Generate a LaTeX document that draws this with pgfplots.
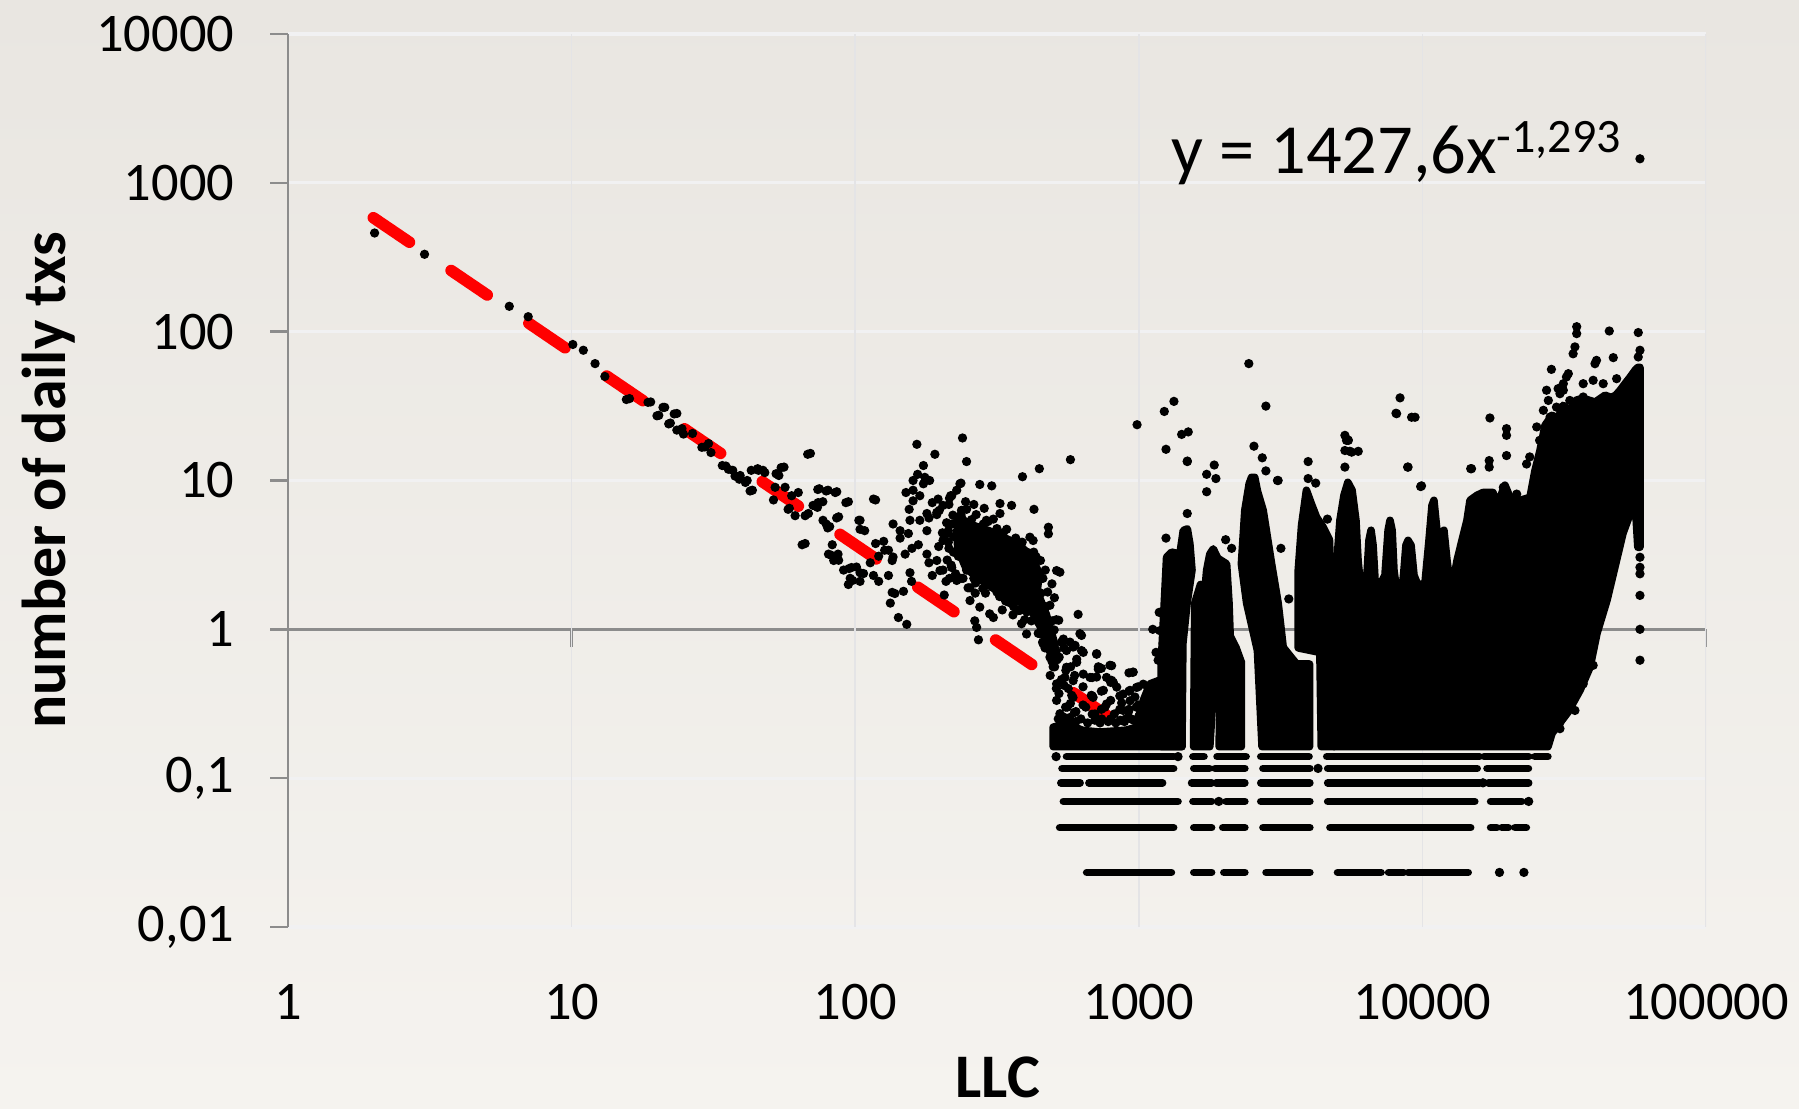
\documentclass[border=0pt]{standalone}
\usepackage{pgfplots}
\pgfplotsset{compat=1.18}
\usepackage{fontspec}
\setmainfont{Carlito}
\definecolor{bgtop}{RGB}{233,230,225}
\definecolor{bgbot}{RGB}{245,243,239}
\definecolor{gridc}{RGB}{241,241,242}
\definecolor{vgridc}{RGB}{228,228,230}
\definecolor{axisc}{RGB}{140,140,140}
\begin{document}
\begin{tikzpicture}
\shade[top color=bgtop, bottom color=bgbot] (0,0) rectangle (449.75pt,277.25pt);
\begin{axis}[
  at={(72pt,45.5pt)}, anchor=south west,
  scale only axis, width=354.5pt, height=223.25pt,
  xmode=log, ymode=log,
  xmin=1, xmax=100000, ymin=0.01, ymax=10000,
  axis x line*=middle, axis y line*=left,
  hide obscured x ticks=false,
  x axis line style={draw=axisc, line width=0.6pt, -},
  y axis line style={draw=axisc, line width=0.6pt, -},
  xtick={1,10,100,1000,10000,100000},
  xticklabels={1,10,100,1000,10000,100000},
  ytick={0.01,0.1,1,10,100,1000,10000},
  yticklabels={{0,01},{0,1},1,10,100,1000,10000},
  xminorticks=false, yminorticks=false,
  tick align=outside, major tick length=4.5pt,
  tick style={draw=axisc, line width=0.6pt},
  ymajorgrids, major grid style={draw=gridc, line width=0.8pt},
  tick label style={font=\fontsize{13.6}{16}\selectfont},
  xticklabel style={anchor=base, inner sep=0pt, yshift=-93pt},
  yticklabel style={anchor=east, inner sep=0pt, xshift=-8.75pt},
  label style={font=\bfseries\fontsize{15.5}{18}\selectfont},
  xlabel={LLC}, ylabel={number of daily txs},
  xlabel style={at={(axis description cs:0.5007,-0.168)}, anchor=center},
  ylabel style={at={(axis description cs:-0.1685,0.5)}, anchor=center},
]
\pgfplotsinvokeforeach{10,100,1000,10000,100000}{\draw[vgridc, line width=0.4pt] (axis cs:#1,0.01) -- (axis cs:#1,10000);}

% dense base band
\addplot[fill=black, draw=black, line width=1.9pt, line join=round, line cap=round, mark=none] coordinates {
(499,0.1628) (499,0.22) (556,0.232) (636,0.209) (729,0.204) (900,0.21) (982,0.22) (1037,0.333) (1095,0.43) (1180,0.454) (1300,0.42) (1410,0.40) (1420,0.1628) (499,0.1628)};
% dense core of the 200-500 cluster
\addplot[fill=black, draw=black, line width=1.9pt, line join=round, line cap=round, mark=none] coordinates {
(237,5.5) (265,4.94) (296,4.6) (334,4.14) (378,3.72) (422,3.0) (446,2.35) (438,1.8) (472,1.26) (499,0.867) (518,0.62) (490,0.676) (455,1.0) (414,1.38) (367,1.59) (319,1.8) (277,2.15) (246,2.56) (230,3.47) (228,4.6) (237,5.5)};
% spike A
\addplot[fill=black, draw=black, line width=1.9pt, line join=round, line cap=round, mark=none] coordinates {
(1200,0.1628) (1200,0.6) (1236,1.82) (1253,3.05) (1304,3.3) (1396,3.21) (1435,4.61) (1483,4.73) (1514,3.75) (1540,2.5) (1480,1.5) (1430,0.8) (1420,0.1628) (1200,0.1628)};
% spike B
\addplot[fill=black, draw=black, line width=1.9pt, line join=round, line cap=round, mark=none] coordinates {
(1560,0.1628) (1575,1.5) (1650,2.0) (1700,1.6) (1735,2.5) (1780,3.2) (1830,3.47) (1900,3.0) (2040,2.75) (2080,1.5) (1900,1.2) (1780,0.1628) (1560,0.1628)};
\addplot[fill=black, draw=black, line width=1.9pt, line join=round, line cap=round, mark=none] coordinates {
(1920,0.1628) (1950,1.2) (2080,1.5) (2100,0.9) (2200,0.757) (2300,0.6) (2300,0.1628) (1920,0.1628)};
% spike C
\addplot[fill=black, draw=black, line width=1.9pt, line join=round, line cap=round, mark=none] coordinates {
(2720,0.1628) (2620,0.72) (2400,1.5) (2300,2.75) (2365,6.3) (2450,9.5) (2497,10.5) (2563,10.5) (2620,8.5) (2745,6.3) (2850,4.0) (2940,2.75) (3100,1.5) (3230,0.757) (3600,0.585) (4000,0.585) (4000,0.1628) (2720,0.1628)};
% spike D
\addplot[fill=black, draw=black, line width=1.9pt, line join=round, line cap=round, mark=none] coordinates {
(4400,0.1628) (4350,0.7) (3650,0.75) (3650,2.5) (3750,5.0) (3900,8.6) (4060,6.97) (4235,5.66) (4470,4.85) (4700,4.0) (4780,1.82) (4880,1.57) (4880,0.1628) (4400,0.1628)};
% main mass E
\addplot[fill=black, draw=black, line width=1.9pt, line join=round, line cap=round, mark=none] coordinates {
(4880,0.1628) (4880,1.57) (5120,5.4) (5290,7.95) (5460,9.72) (5650,8.6) (5830,5.4) (5930,2.91) (6120,1.57) (6330,1.83) (6480,3.96) (6590,4.63) (6700,3.67) (6810,2.13) (7090,1.98) (7380,2.31) (7570,4.63) (7690,5.4) (7820,4.63) (7940,2.49) (8200,1.57) (8410,1.57) (8610,2.49) (8750,3.67) (8900,3.96) (9120,3.67) (9340,2.31) (9640,1.98) (10210,2.04) (10550,3.96) (10810,6.8) (10980,7.36) (11160,5.4) (11530,2.91) (11720,4.49) (11910,4.63) (12210,2.91) (12510,2.04) (12820,2.04) (13250,2.91) (13790,3.96) (14360,5.4) (14720,7.36) (15570,7.95) (16350,8.3) (17740,8.3) (18330,6.8) (19240,8.6) (19550,9.3) (20370,7.7) (22100,7.36) (23950,7.7) (24950,11.7) (26000,16) (27070,23.5) (28640,27.4) (30070,26.2) (31330,32) (33140,29.6) (34800,34.6) (36830,35.7) (40620,33.6) (44070,37.4) (47030,35.7) (49790,40.4) (52270,45.7) (53960,49.4) (56210,55) (57500,57.6) (58500,57.6) (58500,3.56) (57500,3.56) (56210,7.36) (50970,4.42) (44770,1.57) (41270,0.94) (39000,0.556) (35960,0.389) (32600,0.277) (28640,0.2) (27730,0.1628) (4880,0.1628)};

% quantised rows (k/43)
\addplot[black, line width=1.9pt, line cap=round, unbounded coords=jump, mark=none] coordinates {
(556,0.13953) (1327,0.13953) (nan,nan) (1552,0.13953) (1698,0.13953) (nan,nan) (1888,0.13953) (2389,0.13953) (nan,nan) (2692,0.13953) (3984,0.13953) (nan,nan) (4600,0.13953) (15900,0.13953) (nan,nan) (16500,0.13953) (23700,0.13953) (nan,nan) (24900,0.13953) (27700,0.13953) (nan,nan)
(536,0.11628) (1327,0.11628) (nan,nan) (1563,0.11628) (1774,0.11628) (nan,nan) (1857,0.11628) (2366,0.11628) (nan,nan) (2740,0.11628) (4010,0.11628) (nan,nan) (4635,0.11628) (15600,0.11628) (nan,nan) (16900,0.11628) (23650,0.11628) (nan,nan)
(531,0.09302) (621,0.09302) (nan,nan) (667,0.09302) (1213,0.09302) (nan,nan) (1535,0.09302) (1806,0.09302) (nan,nan) (1872,0.09302) (2366,0.09302) (nan,nan) (2692,0.09302) (4010,0.09302) (nan,nan) (4635,0.09302) (15900,0.09302) (nan,nan) (17100,0.09302) (23700,0.09302) (nan,nan)
(542,0.06977) (1375,0.06977) (nan,nan) (1552,0.06977) (1806,0.06977) (nan,nan) (2030,0.06977) (2366,0.06977) (nan,nan) (2692,0.06977) (4010,0.06977) (nan,nan) (4635,0.06977) (15300,0.06977) (nan,nan) (17400,0.06977) (22400,0.06977) (nan,nan)
(526,0.04651) (1327,0.04651) (nan,nan) (1563,0.04651) (1806,0.04651) (nan,nan) (1977,0.04651) (2366,0.04651) (nan,nan) (2740,0.04651) (4010,0.04651) (nan,nan) (4720,0.04651) (14800,0.04651) (nan,nan) (17400,0.04651) (18300,0.04651) (nan,nan) (19050,0.04651) (20100,0.04651) (nan,nan) (21200,0.04651) (23250,0.04651) (nan,nan)
(655,0.02326) (1303,0.02326) (nan,nan) (1563,0.02326) (1806,0.02326) (nan,nan) (1995,0.02326) (2366,0.02326) (nan,nan) (2810,0.02326) (4010,0.02326) (nan,nan) (5020,0.02326) (7150,0.02326) (nan,nan) (7600,0.02326) (8590,0.02326) (nan,nan) (8900,0.02326) (14500,0.02326)
};

% scatter points
\addplot[only marks, mark=*, mark size=0.95pt, mark options={draw=none, fill=black}] table[row sep=\\] {
x y\\
2.02 460\\ 3.03 331\\ 6.03 148\\ 7.03 126\\ 10.1 82\\ 11.0 75\\ 12.1 61\\ 13.1 50\\
16.0 35.5\\ 19.0 33.7\\ 21.3 31\\ 23.5 28.2\\ 20.3 27.4\\ 22.3 24.3\\ 24.5 22.3\\ 26.7 20.7\\
29.5 16.8\\ 30.4 17.7\\ 35 12.5\\ 37 11.7\\ 39.3 10.8\\ 41.6 10.0\\ 43.4 8.6\\ 45.3 12\\
47.3 11.7\\ 53.8 10.8\\ 56.1 12.3\\ 69.5 15.2\\ 66.6 3.77\\ 58.6 6.5\\ 68.4 6.0\\ 51.5 7.4\\
74.7 8.8\\ 80.2 8.6\\ 86.1 8.4\\ 73.6 6.6\\ 76.9 7.2\\ 94.6 7.2\\ 118 7.4\\ 87.4 5.7\\
79 5.1\\ 81.3 4.9\\ 104 5.4\\ 108 4.6\\ 82.5 3.14\\ 87.4 2.91\\ 95.1 2.56\\ 97.9 2.13\\
101 2.62\\ 107 2.37\\ 118 3.77\\ 127 3.4\\ 136 3.06\\ 138 1.74\\
15.6 35\\ 18.6 33.5\\ 20 27.2\\ 21 31\\ 23 28\\ 22 24\\ 23.5 21.8\\ 24.8 20.5\\
28.8 16.7\\ 31 15.4\\ 34 12.6\\ 35.7 11.9\\ 37.7 10.7\\ 39 10.2\\ 41 9.7\\ 43 11.7\\
45.6 11.7\\ 42.6 8.5\\ 48 11.3\\ 52.6 11.1\\ 54.8 12.2\\ 52.2 9.0\\ 56.6 9.0\\ 59.7 7.9\\
63 8.3\\ 58 6.4\\ 61.4 5.8\\ 66.6 5.8\\ 68 15\\ 65 3.7\\ 71 6.8\\ 74 7.1\\
73.8 8.7\\ 79 8.5\\ 85 8.3\\ 77 5.4\\ 80 4.8\\ 86 5.6\\ 92.7 7.1\\ 116 7.5\\
83 3.7\\ 80.5 3.2\\ 87 3.2\\ 84 2.9\\ 91 2.5\\ 96 2.2\\ 94.6 2.0\\ 97 2.6\\
104 2.4\\ 104 2.1\\ 103 5.4\\ 104 4.7\\ 113 2.8\\ 116 2.3\\ 121 3.1\\ 121 2.1\\
126 3.9\\ 131 3.4\\ 135 2.9\\ 136 5.1\\ 144 4.1\\ 150 3.2\\ 131 2.3\\ 135 1.77\\
133 1.5\\ 142 1.2\\ 152 1.08\\ 148 1.8\\ 154 4.4\\ 158.5 3.5\\ 167 3.7\\ 156 2.4\\
158 2.1\\ 165 17.5\\ 191 15\\ 174 12.6\\ 166 11\\ 176 10.5\\ 160 10\\ 151 8.3\\
160 7.3\\ 169 7.9\\ 155 6.4\\ 187 7.1\\ 196 7.5\\ 182 5.6\\ 194 5.9\\ 217 7.9\\
225 5.1\\ 209 4.4\\ 214 3.5\\ 182 2.8\\ 187 2.3\\ 209 2.1\\ 206 1.7\\
183 10\\ 174 9.5\\ 160 8.6\\ 228 8.6\\ 234 9.5\\ 204 6.8\\ 194 6.1\\ 179 6.0\\
213 4.6\\ 222 4.2\\ 204 3.95\\ 231 3.95\\ 179 3.2\\ 194 2.9\\ 199 2.48\\ 219 2.6\\
228 2.13\\ 179 4.6\\ 169 5.4\\ 156 5.4\\ 144 4.6\\
239 19.3\\ 247 13.4\\ 236 9.6\\ 275 9.4\\ 303 9.2\\ 389 10.6\\ 446 12\\ 574 13.8\\
219 7.9\\ 324 7.0\\ 356 6.8\\ 427 6.4\\ 215 7.6\\ 245 7.2\\ 262 6.9\\ 285 6.5\\
237 6.3\\ 237 5.66\\ 290 5.4\\ 307 5.5\\ 324 6.0\\ 342 4.7\\ 413 4.16\\ 424 3.95\\
480 4.85\\ 480 4.38\\ 527 2.42\\ 513 2.48\\ 611 1.26\\
254 1.56\\ 275 1.41\\ 298 1.27\\ 307 1.2\\ 264 1.14\\ 268 1.03\\ 272 0.85\\
386 1.09\\ 402 0.93\\ 250 1.9\\ 240 2.2\\ 265 1.75\\ 330 1.35\\ 360 1.25\\
198 6.3\\ 203 4.45\\ 197 3.6\\ 204 2.5\\
214 6.9\\ 219 5.1\\ 213 3.85\\ 218 2.7\\ 215 2.2\\
236 5.9\\ 230 5.45\\ 234 4.15\\ 231 3.1\\ 236 2.2\\
247 6.4\\ 253 4.8\\ 248 4.2\\ 252 3.35\\ 247 2.5\\ 254 1.9\\
267 5.9\\ 273 4.45\\ 268 3.6\\ 273 2.7\\ 266 2.05\\
294 5.3\\ 288 4.15\\ 295 3.85\\ 289 2.9\\ 293 2.0\\ 288 1.75\\
316 4.75\\ 310 3.35\\ 315 2.95\\ 311 2.35\\ 316 1.78\\
333 4.45\\ 340 3.6\\ 335 2.9\\ 341 2.38\\ 334 2.02\\ 339 1.55\\
368 4.1\\ 361 3.3\\ 367 2.55\\ 360 2.15\\ 366 1.66\\ 362 1.42\\
388 3.85\\ 396 2.92\\ 389 2.5\\ 395 1.92\\ 388 1.52\\ 396 1.16\\
426 3.3\\ 418 2.72\\ 425 2.32\\ 419 1.8\\ 427 1.45\\ 418 1.14\\
450 2.9\\ 459 2.2\\ 452 1.75\\ 460 1.35\\ 451 1.07\\ 458 0.82\\
494 2.02\\ 486 1.45\\ 495 1.14\\ 486 0.86\\ 494 0.61\\ 487 0.49\\
522 1.15\\ 533 0.82\\ 524 0.65\\ 534 0.46\\ 523 0.37\\ 532 0.262\\
575 0.56\\ 564 0.4\\ 574 0.318\\ 565 0.238\\
210 5.2\\ 206 4.1\\ 211 2.92\\
221 5.85\\ 227 4.2\\ 222 3.3\\ 226 2.36\\
243 5.1\\ 239 3.62\\ 244 2.88\\
257 5.45\\ 263 3.9\\ 258 3.08\\ 262 2.2\\
283 5.1\\ 278 3.62\\ 284 3.08\\ 277 2.5\\ 282 1.88\\
299 4.1\\ 305 3.15\\ 300 2.68\\ 305 1.92\\
321 4.1\\ 328 3.3\\ 322 2.55\\ 329 2.15\\ 323 1.66\\
346 3.55\\ 354 2.92\\ 347 2.32\\ 353 1.78\\ 348 1.52\\
374 3.55\\ 382 2.72\\ 375 2.32\\ 383 1.66\\ 376 1.34\\
403 3.3\\ 411 2.55\\ 404 2.15\\ 410 1.55\\ 403 1.31\\
434 3.08\\ 442 2.36\\ 435 2.0\\ 441 1.55\\ 433 1.22\\ 442 0.94\\
468 2.5\\ 477 1.78\\ 469 1.42\\ 476 0.94\\ 467 0.75\\
504 1.63\\ 512 1.16\\ 503 0.99\\ 511 0.71\\ 505 0.56\\ 512 0.4\\
544 0.75\\ 553 0.53\\ 545 0.42\\ 552 0.3\\ 546 0.256\\
594 0.49\\ 586 0.348\\ 593 0.276\\
636 0.411\\ 636 0.31\\ 685 0.474\\ 685 0.357\\ 685 0.269\\ 738 0.547\\ 738 0.384\\ 738 0.29\\
796 0.44\\ 796 0.333\\ 796 0.25\\ 857 0.357\\ 857 0.29\\ 923 0.51\\ 923 0.384\\ 923 0.29\\
995 0.411\\ 995 0.31\\ 995 0.25\\
520 0.25\\ 545 0.245\\ 570 0.255\\ 600 0.24\\ 625 0.25\\ 660 0.235\\ 700 0.245\\ 730 0.235\\
780 0.24\\ 830 0.235\\ 860 0.245\\ 890 0.24\\ 940 0.25\\ 960 0.245\\ 1010 0.27\\
542 0.86\\ 572 0.82\\ 596 0.78\\ 628 0.91\\ 637 0.70\\ 604 0.63\\ 556 0.556\\ 549 0.475\\
587 0.452\\ 673 0.475\\ 710 0.68\\ 720 0.54\\ 770 0.475\\ 802 0.57\\ 813 0.44\\ 881 0.367\\
950 0.514\\ 982 0.407\\ 1037 0.428\\ 1094 0.387\\ 931 0.331\\ 770 0.315\\ 690 0.349\\
436 1.15\\ 448 0.935\\ 460 0.80\\ 486 0.65\\ 499 0.56\\ 513 0.43\\ 513 0.333\\ 527 0.271\\
542 0.84\\ 556 0.72\\ 587 0.76\\ 620 0.935\\ 628 0.72\\ 604 0.60\\ 637 0.50\\ 710 0.686\\
720 0.56\\ 791 0.573\\ 802 0.454\\ 710 0.478\\ 750 0.389\\ 836 0.409\\ 881 0.285\\ 931 0.389\\
956 0.516\\ 969 0.351\\ 381 1.34\\ 402 1.41\\
560 0.3\\ 600 0.28\\ 650 0.3\\ 700 0.27\\ 760 0.3\\ 820 0.27\\ 870 0.32\\ 920 0.28\\
980 0.3\\ 1000 0.26\\ 580 0.36\\ 680 0.36\\ 740 0.25\\ 900 0.25\\ 1050 0.3\\ 1100 0.33\\
1186 0.98\\ 1220 0.8\\ 1253 0.69\\ 1170 0.62\\ 1220 0.53\\ 1150 0.7\\ 1120 1.0\\ 1180 1.3\\
986 23.7\\ 1230 29.1\\ 1330 34\\ 1247 16.2\\ 1416 20.4\\ 1494 21.2\\ 1482 13.4\\ 1482 6.0\\
1247 4.1\\ 2443 61\\ 2806 31.6\\ 2547 17\\ 2725 14.2\\ 2806 11.6\\ 3083 10\\ 3170 3.5\\
3380 1.6\\ 1735 11\\ 1845 12.7\\ 1870 10.3\\ 1735 8.4\\ 2024 4.0\\ 2125 3.5\\ 3955 13.4\\
3955 10.3\\ 4205 9.6\\ 4624 5.5\\ 5330 20.1\\ 5400 18.6\\ 5330 15.9\\ 5330 12.3\\ 1483 13.5\\
3100 10\\ 5470 18.7\\ 5550 15.7\\ 5940 15.7\\ 8340 35.9\\ 8070 28.3\\ 9160 26.6\\ 9420 26.6\\
8900 12.3\\ 17300 26.3\\ 17200 13.6\\ 17200 12.3\\ 14800 12\\ 9930 9.2\\
35000 108\\ 35000 97\\ 34500 79\\ 34000 71\\ 45600 101\\ 57700 98.6\\ 58500 75\\ 57700 67.6\\
47100 66.9\\ 41100 64.1\\ 40600 60.9\\ 28500 55.8\\ 32700 52.2\\ 32200 49.6\\ 48400 48.3\\ 40000 47.1\\
30100 41.4\\ 31400 40.4\\ 27800 34.5\\ 8110 28.1\\ 19800 22.3\\ 19800 20.1\\ 5480 18.6\\ 5630 15.5\\
8870 12.3\\ 19800 14.7\\ 14900 12\\ 9860 9.1\\ 19300 9.0\\ 21500 8.1\\
58500 3.05\\ 58500 2.61\\ 58500 2.36\\ 58500 1.69\\ 58500 1.0\\ 58500 0.62\\ 58500 1450\\
30550 0.238\\ 30550 0.215\\ 34500 0.285\\ 40000 0.573\\ 36900 0.43\\
27400 40.4\\ 30550 38.3\\ 33100 34.5\\ 36900 36.4\\ 38900 29.6\\ 41100 32.8\\ 43400 34.5\\ 47100 36.4\\
49700 38.3\\ 26700 29.6\\ 28200 26.7\\ 31400 25.3\\ 35000 22.9\\ 37900 20.6\\ 25300 22.9\\ 23900 14.4\\
23300 12.9\\ 25900 18.6\\ 31400 44.7\\ 29700 31.1\\ 43400 44.7\\ 36900 44.7\\
511 0.13953\\ 1375 0.13953\\ 4285 0.11628\\ 16350 0.09302\\ 1915 0.06977\\ 23700 0.06977\\ 18700 0.02326\\ 22800 0.02326\\
};

% power-law trendline
\addplot[red, line width=2.9pt, line cap=round, dash pattern=on 10.9pt off 12.6pt, mark=none] coordinates {(2,582.6) (1000,0.1886)};
\end{axis}
\node[anchor=base west, inner sep=0pt] at (292.7pt,233.9pt) {\fontsize{17.6}{20}\selectfont y = 1427,6x\raisebox{5.2pt}{\fontsize{12}{14}\selectfont -1,293}};
\pgfresetboundingbox
\path[use as bounding box] (0,0) rectangle (449.75pt,277.25pt);
\end{tikzpicture}
\end{document}
